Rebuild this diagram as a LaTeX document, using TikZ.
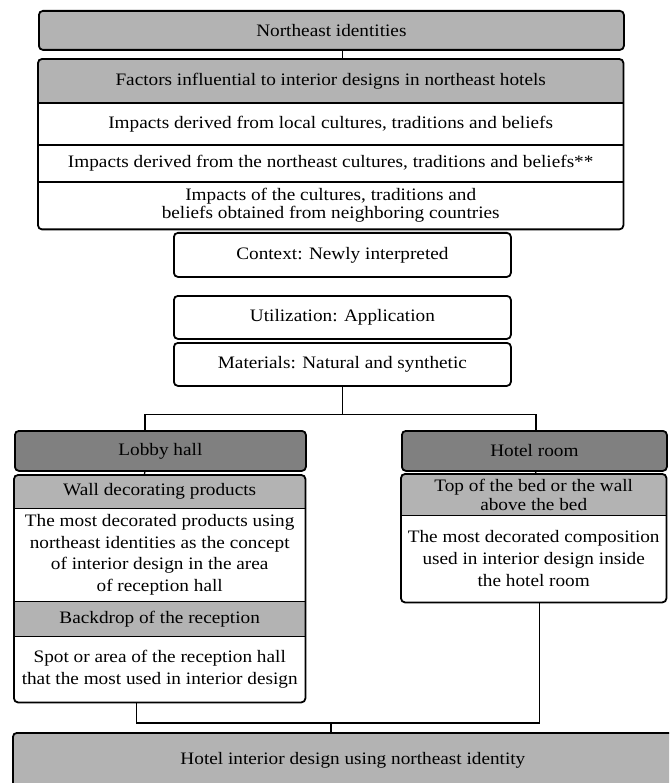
\documentclass[tikz,border=0pt]{standalone}
\usepackage{fontspec}
\setmainfont{Liberation Serif}[FakeStretch=1.1]
\usetikzlibrary{calc}

\definecolor{boxlight}{RGB}{179,179,179}
\definecolor{boxdark}{RGB}{128,128,128}

\tikzset{
  sect/.style={anchor=north west, inner sep=0pt, align=center,
    font=\fontsize{17.5}{20}\selectfont},
  lightsect/.style={sect, fill=boxlight},
  darksect/.style={sect, fill=boxdark},
  frame/.style={line width=1.8pt, rounded corners=4pt},
  sepline/.style={line width=1.8pt},
  link/.style={line width=1.3pt}
}

\begin{document}
\begin{tikzpicture}[x=1pt,y=-1pt]
  \clip (0,0) rectangle (669,783);

  % top block
  \node[lightsect,draw,frame,minimum width=585,minimum height=39] (ident) at (38,10) {Northeast identities};
  \node[lightsect,minimum width=585,minimum height=44] (factors) at (38,59) {Factors influential to interior designs in northeast hotels};
  \node[sect,minimum width=585,minimum height=42] (local) at (38,103) {Impacts derived from local cultures, traditions and beliefs};
  \node[sect,minimum width=585,minimum height=37] (nea) at (38,145) {Impacts derived from the northeast cultures, traditions and beliefs**};
  \node[sect,minimum width=585,minimum height=47,font=\fontsize{17.5}{18}\selectfont] (neigh) at (38,182) {Impacts of the cultures, traditions and\\beliefs obtained from neighboring countries};
  \draw[sepline] (factors.south west) -- (factors.south east);
  \draw[sepline] (local.south west) -- (local.south east);
  \draw[sepline] (nea.south west) -- (nea.south east);
  \draw[frame] (factors.north west) rectangle (neigh.south east);

  \node[sect,draw,frame,minimum width=337,minimum height=44] (context) at (173,232) {Context: Newly interpreted};
  \node[sect,draw,frame,minimum width=337,minimum height=43] (util) at (173,295) {Utilization: Application};
  \node[sect,draw,frame,minimum width=337,minimum height=43] (mater) at (173,342) {Materials: Natural and synthetic};

  % lobby column
  \node[darksect,draw,frame,minimum width=291,minimum height=40] (lobby) at (14,430) {Lobby hall};
  \node[lightsect,minimum width=291,minimum height=33] (wall) at (14,475) {Wall decorating products};
  \node[sect,minimum width=291,minimum height=93,font=\fontsize{17.5}{21.5}\selectfont] (walltxt) at (14,508) {The most decorated products using\\northeast identities as the concept\\of interior design in the area\\of reception hall};
  \node[lightsect,minimum width=291,minimum height=35] (backdrop) at (14,601) {Backdrop of the reception};
  \node[sect,minimum width=291,minimum height=66,font=\fontsize{17.5}{21.5}\selectfont] (spot) at (14,636) {Spot or area of the reception hall\\that the most used in interior design};
  \draw[sepline] (wall.south west) -- (wall.south east);
  \draw[sepline] (walltxt.south west) -- (walltxt.south east);
  \draw[sepline] (backdrop.south west) -- (backdrop.south east);
  \draw[frame] (wall.north west) rectangle (spot.south east);

  % room column
  \node[darksect,draw,frame,minimum width=265,minimum height=40] (room) at (401,430) {Hotel room};
  \node[lightsect,minimum width=265,minimum height=41,font=\fontsize{17.5}{19}\selectfont] (bed) at (401,474) {Top of the bed or the wall\\above the bed};
  \node[sect,minimum width=265,minimum height=87,font=\fontsize{17.5}{22}\selectfont] (bedtxt) at (401,515) {The most decorated composition\\used in interior design inside\\the hotel room};
  \draw[sepline] (bed.south west) -- (bed.south east);
  \draw[frame] (bed.north west) rectangle (bedtxt.south east);

  \node[lightsect,draw,frame,minimum width=680,minimum height=54] (result) at (12,732) {Hotel interior design using northeast identity};

  % connectors
  \coordinate (split) at ($(mater.south)+(0,28)$);
  \coordinate (join) at (331,723);
  \draw[link] (ident.south -| mater.south) -- (factors.north -| mater.south);
  \draw[link] (mater.south) -- (split);
  \draw[link] ([xshift=-15.5pt]lobby.north) |- (split) -| ([xshift=1.5pt]room.north);
  \draw[link] ([xshift=-15.5pt]lobby.south) -- ([xshift=-15.5pt]wall.north);
  \draw[link] ([xshift=1.5pt]room.south) -- ([xshift=1.5pt]bed.north);
  \draw[link] ([xshift=-23.5pt]spot.south) |- (join) -| ([xshift=5.5pt]bedtxt.south);
  \draw[link] (join) -- (join |- result.north);
\end{tikzpicture}
\end{document}
